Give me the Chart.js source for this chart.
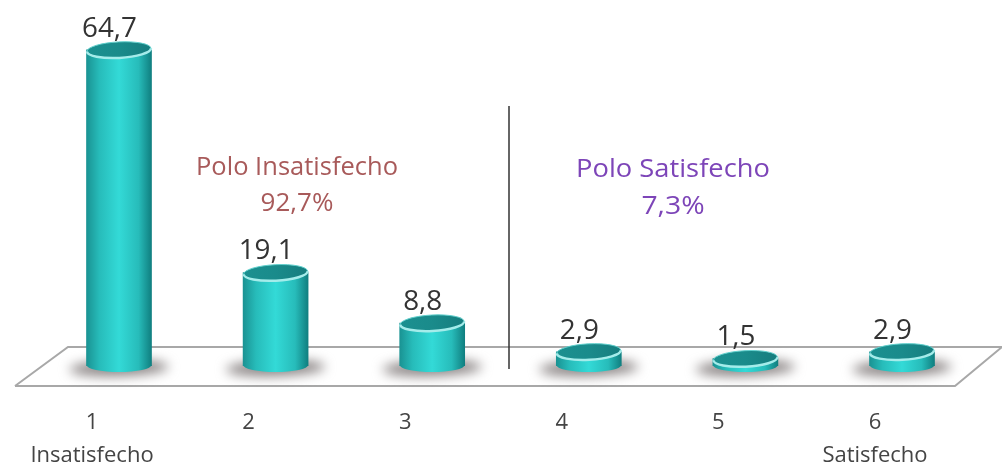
<!DOCTYPE html>
<html>
<head>
<meta charset="utf-8">
<title>Polo Insatisfecho / Polo Satisfecho</title>
<script src="https://cdn.jsdelivr.net/npm/chart.js@4"></script>
<style>
html, body { margin: 0; padding: 0; background: #fff; }
canvas { display: block; }
</style>
</head>
<body>
<canvas id="polo-chart" width="1002" height="462"></canvas>
<script>
// chart data
const categories = ['1', '2', '3', '4', '5', '6'];
const values = [64.7, 19.1, 8.8, 2.9, 1.5, 2.9];
const valueLabels = ['64,7', '19,1', '8,8', '2,9', '1,5', '2,9'];
const poleTitles = ['Polo Insatisfecho', 'Polo Satisfecho'];
const poleTotals = ['92,7%', '7,3%'];
const tickLabels = [['1', 'Insatisfecho'], '2', '3', '4', '5', ['6', 'Satisfecho']];

const FONT = '"Open Sans", sans-serif';
const BAR_WIDTH = 65;

function bodyGradient(ctx, x, w) {
    const g = ctx.createLinearGradient(x - w / 2, 0, x + w / 2, 0);
    g.addColorStop(0, '#1a9393');
    g.addColorStop(0.2, '#27bcba');
    g.addColorStop(0.5, '#33dad7');
    g.addColorStop(0.8, '#27bcba');
    g.addColorStop(1, '#107f80');
    return g;
}

/*stretched text, the picture is wider than any installed font*/
function drawText(ctx, text, x, y, size, color, stretch) {
    ctx.save();
    ctx.translate(x, y);
    ctx.scale(stretch, 1);
    ctx.font = size + 'px ' + FONT;
    ctx.fillStyle = color;
    ctx.textAlign = 'center';
    ctx.textBaseline = 'middle';
    ctx.fillText(text, 0, 0);
    ctx.restore();
}

const floorPlugin = {
    id: 'floor',
    beforeDatasetsDraw(chart) {
        const ctx = chart.ctx;
        const bottom = chart.chartArea.bottom;

        // floor
        ctx.save();
        ctx.strokeStyle = '#a8a8a8';
        ctx.lineWidth = 2;
        ctx.beginPath();
        ctx.moveTo(15, bottom + 20);
        ctx.lineTo(68, bottom - 19);
        ctx.lineTo(1002, bottom - 19);
        ctx.moveTo(1002, bottom - 19);
        ctx.lineTo(955, bottom + 20);
        ctx.lineTo(15, bottom + 20);
        ctx.stroke();
        ctx.restore();

        // bar shadows
        chart.getDatasetMeta(0).data.forEach(function (bar) {
            ctx.save();
            ctx.filter = 'blur(6px)';
            ctx.fillStyle = '#8a8484';
            ctx.beginPath();
            ctx.ellipse(bar.x, bar.base + 2, bar.width * 0.76, 8, -0.03, 0, Math.PI * 2);
            ctx.fill();
            ctx.restore();
        });
    }
};

const cylinderPlugin = {
    id: 'cylinder',
    afterDatasetsDraw(chart) {
        const ctx = chart.ctx;
        const meta = chart.getDatasetMeta(0);

        meta.data.forEach(function (bar, i) {
            const rx = bar.width / 2;

            // round bottom of the cylinder
            ctx.save();
            ctx.fillStyle = bodyGradient(ctx, bar.x, bar.width);
            ctx.beginPath();
            ctx.ellipse(bar.x, bar.base - 1, rx, 7, 0, 0, Math.PI);
            ctx.fill();
            ctx.restore();

            // top of the cylinder
            ctx.save();
            const top = ctx.createLinearGradient(bar.x - rx, 0, bar.x + rx, 0);
            top.addColorStop(0, '#1b9090');
            top.addColorStop(0.5, '#1a8b8b');
            top.addColorStop(1, '#167d7e');
            ctx.fillStyle = top;
            ctx.strokeStyle = '#5fcfcc';
            ctx.lineWidth = 1;
            ctx.beginPath();
            ctx.ellipse(bar.x, bar.y, rx - 0.5, 8, -0.05, 0, Math.PI * 2);
            ctx.fill();
            ctx.stroke();
            ctx.strokeStyle = '#a4ecea';
            ctx.lineWidth = 2.5;
            ctx.beginPath();
            ctx.ellipse(bar.x, bar.y, rx - 0.5, 8, -0.05, 0, Math.PI);
            ctx.stroke();
            ctx.restore();

            // value above the bar, shifted to the left like the picture
            drawText(ctx, valueLabels[i], bar.x - 9.5, bar.y - 21, 27, '#333333', 1.03);
        });

        // divider between the two poles
        const left = chart.scales.x.getPixelForValue(2);
        const right = chart.scales.x.getPixelForValue(3);
        const divider = (left + right) / 2 - 1.5;
        ctx.save();
        ctx.strokeStyle = '#333333';
        ctx.lineWidth = 1.5;
        ctx.beginPath();
        ctx.moveTo(divider, 106);
        ctx.lineTo(divider, 369);
        ctx.stroke();
        ctx.restore();

        // pole captions
        drawText(ctx, poleTitles[0], 297, 168, 25, '#a85a5a', 1.02);
        drawText(ctx, poleTotals[0], 297, 204, 25, '#a85a5a', 1.04);
        drawText(ctx, poleTitles[1], 673, 170, 26, '#7d45b8', 1.05);
        drawText(ctx, poleTotals[1], 673, 207, 26, '#7d45b8', 1.09);
    }
};

const ctx = document.getElementById('polo-chart');
new Chart(ctx, {
    type: 'bar',
    data: {
        labels: tickLabels,
        datasets: [{
            label: categories.join(' '),
            data: values,
            barThickness: BAR_WIDTH,
            borderWidth: 0,
            backgroundColor: function (c) {
                const scale = c.chart.scales.x;
                if (!c.chart.chartArea || !scale) {
                    return '#2bc4c2';
                }
                return bodyGradient(c.chart.ctx, scale.getPixelForValue(c.dataIndex), BAR_WIDTH);
            }
        }]
    },
    options: {
        responsive: false,
        animation: false,
        layout: {
            padding: { left: 40.7, right: 21.7, top: 24, bottom: 0 }
        },
        plugins: {
            legend: { display: false },
            tooltip: { enabled: false }
        },
        scales: {
            x: {
                grid: { display: false },
                border: { display: false },
                afterFit: function (scale) {
                    scale.height = 96;
                },
                ticks: {
                    color: '#444444',
                    padding: 32,
                    labelOffset: -27,
                    maxRotation: 0,
                    font: { family: FONT, size: 22, lineHeight: 1.5 }
                }
            },
            y: {
                display: false,
                min: 0,
                max: 70
            }
        }
    },
    plugins: [floorPlugin, cylinderPlugin]
});
</script>
</body>
</html>
